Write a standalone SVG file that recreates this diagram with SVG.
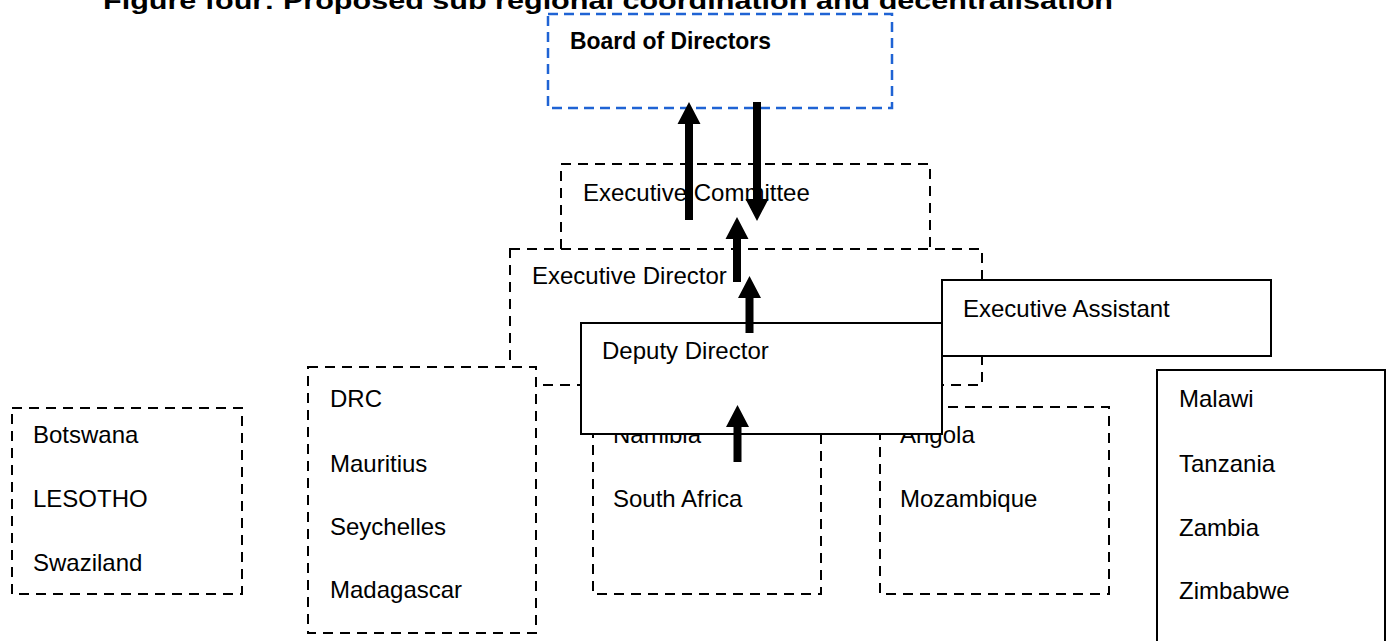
<svg xmlns="http://www.w3.org/2000/svg" width="1392" height="641" viewBox="0 0 1392 641">
<style>
text{font-family:"Liberation Sans",Arial,sans-serif;font-size:24px;fill:#000}
.b{font-weight:bold}
.dash{fill:#fff;stroke:#000;stroke-width:2;stroke-dasharray:10 7}
.blue{fill:#fff;stroke:#1f63d4;stroke-width:2.5;stroke-dasharray:10 6}
.solid{fill:#fff;stroke:#000;stroke-width:2}
.arr{fill:#000;stroke:none}
</style>
<rect width="1392" height="641" fill="#fff"/>
<text class="b" x="103" y="9" font-size="28" textLength="1010" lengthAdjust="spacingAndGlyphs">Figure four: Proposed sub regional coordination and decentralisation</text>
<g id="board"><rect class="blue" x="548" y="14" width="344" height="94"/><text class="b" x="570" y="49" font-size="23" textLength="201" lengthAdjust="spacingAndGlyphs">Board of Directors</text></g>
<g id="exec-committee"><rect class="dash" x="561" y="164" width="369" height="90"/><text x="583" y="201">Executive Committee</text></g>
<g id="exec-director"><rect class="dash" x="510" y="249" width="472" height="136"/><text x="532" y="284">Executive Director</text></g>
<g id="group-drc"><rect class="dash" x="308" y="367" width="228" height="266"/><text x="330" y="407">DRC</text><text x="330" y="472">Mauritius</text><text x="330" y="535">Seychelles</text><text x="330" y="598">Madagascar</text></g>
<g id="group-botswana"><rect class="dash" x="12" y="408" width="230" height="186"/><text x="33" y="443">Botswana</text><text x="33" y="507">LESOTHO</text><text x="33" y="571">Swaziland</text></g>
<g id="group-namibia"><rect class="dash" x="593" y="407" width="228" height="187"/><text x="613" y="443">Namibia</text><text x="613" y="507">South Africa</text></g>
<g id="group-angola"><rect class="dash" x="880" y="407" width="229" height="187"/><text x="900" y="443">Angola</text><text x="900" y="507">Mozambique</text></g>
<g id="deputy-director"><rect class="solid" x="581" y="323" width="361" height="111"/><text x="602" y="359">Deputy Director</text></g>
<g id="exec-assistant"><rect class="solid" x="942" y="280" width="329" height="76"/><text x="963" y="317">Executive Assistant</text></g>
<g id="group-malawi"><rect class="solid" x="1157" y="370" width="228" height="290"/><text x="1179" y="407">Malawi</text><text x="1179" y="472">Tanzania</text><text x="1179" y="536">Zambia</text><text x="1179" y="599">Zimbabwe</text></g>
<g id="connectors">
<polygon class="arr" points="689,102 700.5,124 693,124 693,220 685,220 685,124 677.5,124"/>
<polygon class="arr" points="757,221 768.5,199 761,199 761,102 753,102 753,199 745.5,199"/>
<polygon class="arr" points="737,217 748.5,239 741,239 741,282 733,282 733,239 725.5,239"/>
<polygon class="arr" points="749.5,276 761,298 753.5,298 753.5,333 745.5,333 745.5,298 738,298"/>
<polygon class="arr" points="737.5,405 749,427 741.5,427 741.5,462 733.5,462 733.5,427 726,427"/>
</g>
</svg>
